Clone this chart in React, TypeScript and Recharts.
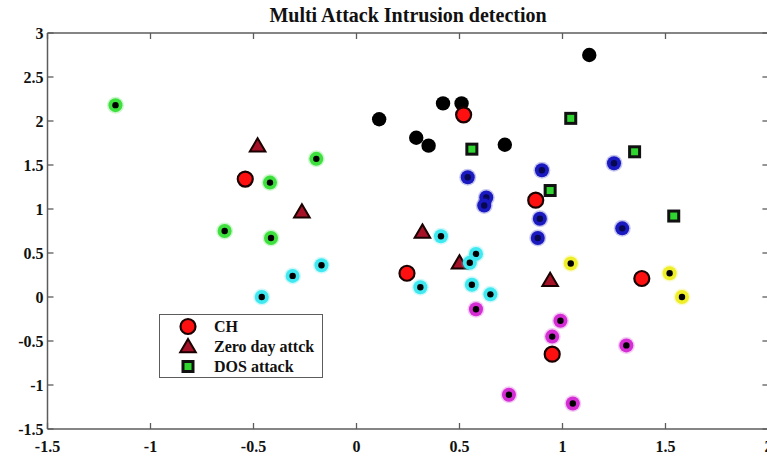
import React from 'react';
import { ScatterChart, Scatter, XAxis, YAxis, Legend } from 'recharts';

// Axis ticks
const xTicks = [-1.5, -1, -0.5, 0, 0.5, 1, 1.5, 2];
const yTicks = [-1.5, -1, -0.5, 0, 0.5, 1, 1.5, 2, 2.5, 3];

// Cluster members
const blackCluster = [
  { x: 1.13, y: 2.75 },
  { x: 0.11, y: 2.02 },
  { x: 0.42, y: 2.2 },
  { x: 0.51, y: 2.2 },
  { x: 0.29, y: 1.81 },
  { x: 0.35, y: 1.72 },
  { x: 0.72, y: 1.73 },
];
const greenCluster = [
  { x: -1.17, y: 2.18 },
  { x: -0.195, y: 1.57 },
  { x: -0.42, y: 1.3 },
  { x: -0.64, y: 0.75 },
  { x: -0.415, y: 0.67 },
];
const cyanCluster = [
  { x: -0.17, y: 0.36 },
  { x: -0.31, y: 0.24 },
  { x: -0.46, y: 0.0 },
  { x: 0.41, y: 0.69 },
  { x: 0.58, y: 0.49 },
  { x: 0.55, y: 0.39 },
  { x: 0.31, y: 0.11 },
  { x: 0.56, y: 0.14 },
  { x: 0.65, y: 0.03 },
];
const blueCluster = [
  { x: 1.25, y: 1.52 },
  { x: 0.9, y: 1.44 },
  { x: 0.54, y: 1.36 },
  { x: 0.63, y: 1.13 },
  { x: 0.62, y: 1.04 },
  { x: 0.89, y: 0.89 },
  { x: 0.88, y: 0.67 },
  { x: 1.29, y: 0.78 },
];
const yellowCluster = [
  { x: 1.04, y: 0.38 },
  { x: 1.52, y: 0.27 },
  { x: 1.58, y: 0.0 },
];
const magentaCluster = [
  { x: 0.58, y: -0.14 },
  { x: 0.99, y: -0.27 },
  { x: 0.95, y: -0.45 },
  { x: 1.31, y: -0.55 },
  { x: 0.74, y: -1.11 },
  { x: 1.05, y: -1.21 },
];

// Cluster heads, zero-day and DOS attack nodes
const clusterHeads = [
  { x: 0.52, y: 2.07 },
  { x: -0.54, y: 1.34 },
  { x: 0.87, y: 1.1 },
  { x: 0.245, y: 0.27 },
  { x: 1.385, y: 0.21 },
  { x: 0.95, y: -0.65 },
];
const zeroDayAttacks = [
  { x: -0.48, y: 1.72 },
  { x: -0.265, y: 0.97 },
  { x: 0.32, y: 0.74 },
  { x: 0.5, y: 0.39 },
  { x: 0.94, y: 0.19 },
];
const dosAttacks = [
  { x: 0.56, y: 1.68 },
  { x: 1.04, y: 2.03 },
  { x: 1.35, y: 1.65 },
  { x: 0.94, y: 1.21 },
  { x: 1.54, y: 0.92 },
];

const FONT = '"Liberation Serif", "Times New Roman", serif';
const AXIS = '#5c5c5c';
const TEXT = '#111';

const CH_FILL = '#ff1010';
const TRI_FILL = '#a51228';
const SQ_FILL = '#2fd62f';

const ringShape = (color: string, core = '#000') => (props: any) => {
  const { cx, cy } = props;
  if (cx == null || cy == null) return <g />;
  return (
    <g>
      <circle cx={cx} cy={cy} r={8.5} fill={color} opacity={0.25} />
      <circle cx={cx} cy={cy} r={7} fill={color} />
      <circle cx={cx} cy={cy} r={3.2} fill={core} />
    </g>
  );
};

const blackDot = (props: any) => {
  const { cx, cy } = props;
  if (cx == null || cy == null) return <g />;
  return <circle cx={cx} cy={cy} r={7.2} fill="#000" />;
};

const chMarker = (cx: number, cy: number) => (
  <circle cx={cx} cy={cy} r={7.5} fill={CH_FILL} stroke="#1a0000" strokeWidth={2.2} />
);
const triMarker = (cx: number, cy: number) => (
  <polygon
    points={`${cx},${cy - 7.5} ${cx + 7.8},${cy + 5.8} ${cx - 7.8},${cy + 5.8}`}
    fill={TRI_FILL}
    stroke="#1a0000"
    strokeWidth={2}
    strokeLinejoin="miter"
  />
);
const sqMarker = (cx: number, cy: number) => (
  <rect x={cx - 5} y={cy - 5} width={10} height={10} fill={SQ_FILL} stroke="#111" strokeWidth={3} />
);

const chShape = (p: any) => (p.cx == null ? <g /> : chMarker(p.cx, p.cy));
const triShape = (p: any) => (p.cx == null ? <g /> : triMarker(p.cx, p.cy));
const sqShape = (p: any) => (p.cx == null ? <g /> : sqMarker(p.cx, p.cy));

const XTickBottom = (props: any) => {
  const { x, y, payload } = props;
  return (
    <g>
      <line x1={x} y1={y} x2={x} y2={y - 6} stroke={AXIS} strokeWidth={1.3} />
      <text x={x} y={y + 23} textAnchor="middle" fontFamily={FONT} fontWeight="bold" fontSize={16} fill={TEXT}>
        {payload.value}
      </text>
    </g>
  );
};

const XTickTop = (props: any) => {
  const { x, y } = props;
  return <line x1={x} y1={y} x2={x} y2={y + 6} stroke={AXIS} strokeWidth={1.3} />;
};

const YTickLeft = (props: any) => {
  const { x, y, payload } = props;
  return (
    <g>
      <line x1={x} y1={y} x2={x + 6} y2={y} stroke={AXIS} strokeWidth={1.3} />
      <text x={x - 4} y={y + 5.5} textAnchor="end" fontFamily={FONT} fontWeight="bold" fontSize={16} fill={TEXT}>
        {payload.value}
      </text>
    </g>
  );
};

const YTickRight = (props: any) => {
  const { x, y } = props;
  return <line x1={x} y1={y} x2={x - 6} y2={y} stroke={AXIS} strokeWidth={1.3} />;
};

const legendNames = ['CH', 'Zero day attck', 'DOS attack'];
const legendMarkers = [chMarker, triMarker, sqMarker];

const LegendBox = () => (
  <div
    style={{
      width: 162,
      height: 62,
      border: `1.5px solid ${AXIS}`,
      background: '#fff',
      boxSizing: 'content-box',
    }}
  >
    <svg width={162} height={62}>
      {legendNames.map((name, i) => (
        <g key={name}>
          {legendMarkers[i](28, 11.5 + i * 20)}
          <text x={54} y={17 + i * 20} fontFamily={FONT} fontWeight="bold" fontSize={16} fill={TEXT}>
            {name}
          </text>
        </g>
      ))}
    </svg>
  </div>
);

export default function App() {
  return (
    <div
      style={{
        position: 'fixed',
        left: 0,
        top: 0,
        width: 767,
        height: 459,
        overflow: 'hidden',
        background: '#fff',
      }}
    >
      <div
        style={{
          position: 'absolute',
          left: 0,
          width: 816,
          top: 4,
          textAlign: 'center',
          fontFamily: FONT,
          fontWeight: 'bold',
          fontSize: 20,
          color: TEXT,
          lineHeight: '22px',
          zIndex: 2,
        }}
      >
        Multi Attack Intrusion detection
      </div>
      <ScatterChart width={779} height={459} margin={{ top: 28, right: 5.5, bottom: 5, left: 0.5 }}>
        <XAxis
          xAxisId="b"
          type="number"
          dataKey="x"
          orientation="bottom"
          domain={[-1.5, 2]}
          ticks={xTicks}
          interval={0}
          allowDataOverflow
          height={25}
          tickLine={false}
          tickSize={0}
          tickMargin={0}
          axisLine={{ stroke: AXIS, strokeWidth: 1.5 }}
          tick={XTickBottom}
        />
        <XAxis
          xAxisId="t"
          type="number"
          dataKey="x"
          orientation="top"
          domain={[-1.5, 2]}
          ticks={xTicks}
          interval={0}
          allowDataOverflow
          height={5}
          tickLine={false}
          tickSize={0}
          tickMargin={0}
          axisLine={{ stroke: AXIS, strokeWidth: 1.5 }}
          tick={XTickTop}
        />
        <YAxis
          yAxisId="l"
          type="number"
          dataKey="y"
          orientation="left"
          domain={[-1.5, 3]}
          ticks={yTicks}
          interval={0}
          allowDataOverflow
          width={47}
          tickLine={false}
          tickSize={0}
          tickMargin={0}
          axisLine={{ stroke: AXIS, strokeWidth: 1.5 }}
          tick={YTickLeft}
        />
        <YAxis
          yAxisId="r"
          type="number"
          dataKey="y"
          orientation="right"
          domain={[-1.5, 3]}
          ticks={yTicks}
          interval={0}
          allowDataOverflow
          width={5}
          tickLine={false}
          tickSize={0}
          tickMargin={0}
          axisLine={{ stroke: AXIS, strokeWidth: 1.5 }}
          tick={YTickRight}
        />
        <Scatter name="Zero day attck" data={zeroDayAttacks} xAxisId="b" yAxisId="l" shape={triShape} fill={TRI_FILL} isAnimationActive={false} />
        <Scatter name="green" data={greenCluster} xAxisId="b" yAxisId="l" shape={ringShape('#3ee03e')} legendType="none" isAnimationActive={false} />
        <Scatter name="cyan" data={cyanCluster} xAxisId="b" yAxisId="l" shape={ringShape('#3fe9ef')} legendType="none" isAnimationActive={false} />
        <Scatter name="blue" data={blueCluster} xAxisId="b" yAxisId="l" shape={ringShape('#1a1ac0', '#080850')} legendType="none" isAnimationActive={false} />
        <Scatter name="yellow" data={yellowCluster} xAxisId="b" yAxisId="l" shape={ringShape('#eeee2a')} legendType="none" isAnimationActive={false} />
        <Scatter name="magenta" data={magentaCluster} xAxisId="b" yAxisId="l" shape={ringShape('#d52ed5')} legendType="none" isAnimationActive={false} />
        <Scatter name="black" data={blackCluster} xAxisId="b" yAxisId="l" shape={blackDot} legendType="none" isAnimationActive={false} />
        <Scatter name="CH" data={clusterHeads} xAxisId="b" yAxisId="l" shape={chShape} fill={CH_FILL} isAnimationActive={false} />
        <Scatter name="DOS attack" data={dosAttacks} xAxisId="b" yAxisId="l" shape={sqShape} fill={SQ_FILL} isAnimationActive={false} />
        <Legend
          layout="vertical"
          align="center"
          verticalAlign="middle"
          wrapperStyle={{ left: 159, top: 314, width: 'auto' }}
          content={() => <LegendBox />}
        />
      </ScatterChart>
    </div>
  );
}
